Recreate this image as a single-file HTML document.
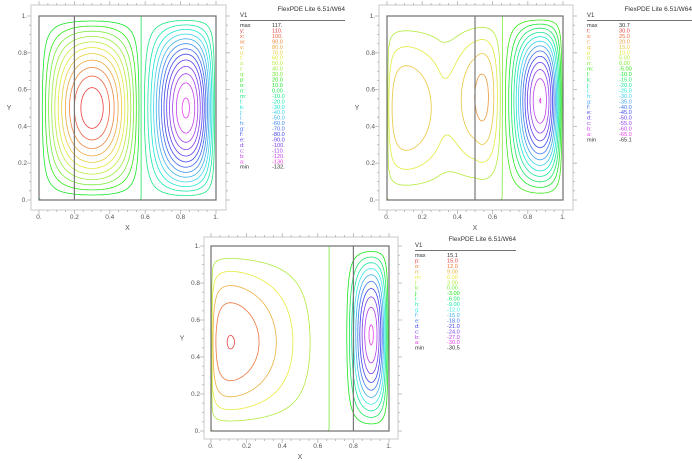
<!DOCTYPE html>
<html><head><meta charset="utf-8">
<style>
html,body{margin:0;padding:0;background:#fff;}
svg{display:block;font-family:"Liberation Sans",sans-serif;}
</style></head>
<body>
<svg id="chart" width="692" height="463" viewBox="0 0 692 463" xmlns="http://www.w3.org/2000/svg"></svg>
<script>
// ---- data ----
const levels1 = [110,100,90,80,70,60,50,40,30,20,10,0,-10,-20,-30,-40,-50,-60,-70,-80,-90,-100,-110,-120,-130];
const labels1 = ["y","x","w","v","u","t","s","r","q","p","o","n","m","l","k","j","i","h","g","f","e","d","c","b","a"];
const values1 = ["110.","100.","90.0","80.0","70.0","60.0","50.0","40.0","30.0","20.0","10.0","0.00","-10.0","-20.0","-30.0","-40.0","-50.0","-60.0","-70.0","-80.0","-90.0","-100.","-110.","-120.","-130."];
const max1 = "117.", min1 = "-132.";
const levels2 = [30,25,20,15,10,5,0,-5,-10,-15,-20,-25,-30,-35,-40,-45,-50,-55,-60,-65];
const labels2 = ["t","s","r","q","p","o","n","m","l","k","j","i","h","g","f","e","d","c","b","a"];
const values2 = ["30.0","25.0","20.0","15.0","10.0","5.00","0.00","-5.00","-10.0","-15.0","-20.0","-25.0","-30.0","-35.0","-40.0","-45.0","-50.0","-55.0","-60.0","-65.0"];
const max2 = "30.7", min2 = "-65.1";
const levels3 = [15,12,9,6,3,0,-3,-6,-9,-12,-15,-18,-21,-24,-27,-30];
const labels3 = ["p","o","n","m","l","k","j","i","h","g","f","e","d","c","b","a"];
const values3 = ["15.0","12.0","9.00","6.00","3.00","0.00","-3.00","-6.00","-9.00","-12.0","-15.0","-18.0","-21.0","-24.0","-27.0","-30.0"];
const max3 = "15.1", min3 = "-30.5";
// vortex cells: [xStart, xEnd, peakX, peakY, amplitude]
const cells1 = [[0,0.58,0.30,0.5,117],[0.565,1,0.83,0.5,-132]];
const cells2 = [[0,0.50,0.11,0.5,20],[0.30,0.66,0.54,0.56,22],[0.64,1,0.87,0.54,-65.1]];
const cells3 = [[0,0.66,0.11,0.48,15.1],[0.74,1,0.90,0.52,-30.5]];
const ticks = [0,0.2,0.4,0.6,0.8,1];
const tickText = ["0.","0.2","0.4","0.6","0.8","1."];

const NS="http://www.w3.org/2000/svg";
const svg=document.getElementById('chart');
function mk(tag,attrs,parent){const e=document.createElementNS(NS,tag);for(const k in attrs)e.setAttribute(k,attrs[k]);(parent||svg).appendChild(e);return e;}

function field(cells,x,y){
  let v=0;
  for(const c of cells){
    const [a,b,px,py,A]=c;
    if(x<=a||x>=b) continue;
    let u=(x-a)/(b-a); const m=(px-a)/(b-a);
    const g=Math.log(0.5)/Math.log(m);
    u=Math.pow(u,g);
    const gy=Math.log(0.5)/Math.log(py);
    const w=Math.pow(y,gy);
    v+=A*Math.sin(Math.PI*u)*Math.sin(Math.PI*w);
  }
  return v;
}
function colorFor(i,n){const t=n>1?i/(n-1):0;return `hsl(${t*300},80%,${t>0.35&&t<0.6?50:58}%)`;}

function drawPlot(P){
  const g=mk('g',{});
  const sx=v=>P.x0+v*(P.x1-P.x0), sy=v=>P.y0-v*(P.y0-P.y1);
  const of=mk('rect',{x:P.ox0,y:P.oy0,width:P.ox1-P.ox0,height:P.oy1-P.oy0,fill:'none',stroke:'#c8c8c8','stroke-width':1},g);
  
  let tp='';
  for(let k=0;k<=20;k++){const xx=sx(k/20);const l=k%4==0?4:2;tp+=`M${xx},${P.oy1}v${l}M${xx},${P.oy0}v${-l}`;const yy=sy(k/20);tp+=`M${P.ox0},${yy}h${-l}M${P.ox1},${yy}h${l}`;}
  const tk=mk('path',{d:tp,stroke:'#b0b0b0','stroke-width':0.8,fill:'none'},g);
  
  ticks.forEach((t,i)=>{
    const a=mk('text',{x:sx(t),y:P.oy1+9,'font-size':6.5,'text-anchor':'middle',fill:'#555'},g);a.textContent=tickText[i];
    
    const b=mk('text',{x:P.ox0-4,y:sy(t)+2,'font-size':6.5,'text-anchor':'end',fill:'#555'},g);b.textContent=tickText[i];
    
  });
  const xl=mk('text',{x:(P.x0+P.x1)/2,y:P.oy1+20,'font-size':7,'text-anchor':'middle',fill:'#555'},g);xl.textContent='X';
  
  const yl=mk('text',{x:P.ox0-22,y:(P.y0+P.y1)/2+2,'font-size':7,'text-anchor':'middle',fill:'#555'},g);yl.textContent='Y';
  
  const N=110, vals=[];
  for(let j=0;j<=N;j++){vals[j]=[];for(let i=0;i<=N;i++)vals[j][i]=field(P.cells,i/N,j/N);}
  P.levels.forEach((L,li)=>{
    let d='';
    for(let j=0;j<N;j++)for(let i=0;i<N;i++){
      const c=[vals[j][i],vals[j][i+1],vals[j+1][i+1],vals[j+1][i]];
      const pts=[[i,j],[i+1,j],[i+1,j+1],[i,j+1]];
      const cr=[];
      for(let e=0;e<4;e++){const a=c[e],b=c[(e+1)%4];if((a>L)!==(b>L)){const t=(L-a)/(b-a);const p=pts[e],q=pts[(e+1)%4];cr.push([(p[0]+t*(q[0]-p[0]))/N,(p[1]+t*(q[1]-p[1]))/N]);}}
      for(let k=0;k+1<cr.length;k+=2)d+=`M${sx(cr[k][0]).toFixed(1)},${sy(cr[k][1]).toFixed(1)}L${sx(cr[k+1][0]).toFixed(1)},${sy(cr[k+1][1]).toFixed(1)}`;
    }
    if(d){const p=mk('path',{d:d,stroke:colorFor(li,P.levels.length),'stroke-width':0.8,fill:'none'},g);
      }
  });
  const ib=mk('rect',{x:P.x0,y:P.y1,width:P.x1-P.x0,height:P.y0-P.y1,fill:'none',stroke:'#6e6e6e','stroke-width':1.2},g);
  
  const il=mk('line',{x1:sx(P.iface),x2:sx(P.iface),y1:P.y1,y2:P.y0,stroke:'#777','stroke-width':1.2},g);
  
  const lg=mk('g',{},g);
  const tt=mk('text',{x:P.lx1,y:P.ly-14,'font-size':6.5,'text-anchor':'end',fill:'#333'},lg);tt.textContent='FlexPDE Lite 6.51/W64';
  
  const v1=mk('text',{x:P.lx,y:P.ly-8,'font-size':6,fill:'#333'},lg);v1.textContent='V1';
  mk('line',{x1:P.lx,x2:P.lx1,y1:P.ly-4.5,y2:P.ly-4.5,stroke:'#444','stroke-width':0.8},lg);
  const rows=[['max',P.max,'#333']];
  P.labels.forEach((l,i)=>rows.push([l+':',P.values[i],colorFor(i,P.levels.length)]));
  rows.push(['min',P.min,'#333']);
  rows.forEach((r,i)=>{
    const y=P.ly+2+i*5.45;
    const a=mk('text',{x:P.lx,y:y,'font-size':5.6,fill:r[2]},lg);a.textContent=r[0];
    
    const b=mk('text',{x:P.lx+32,y:y,'font-size':5.6,fill:r[2]},lg);b.textContent=r[1];
    
  });
}

drawPlot({name:'plot-1',x0:39,x1:216,y0:200,y1:16,ox0:31,ox1:226,oy0:5,oy1:210,iface:0.2,cells:cells1,levels:levels1,labels:labels1,values:values1,max:max1,min:min1,lx:240,lx1:345,ly:25});
drawPlot({name:'plot-2',x0:387,x1:563,y0:200,y1:16,ox0:379,ox1:573,oy0:5,oy1:210,iface:0.5,cells:cells2,levels:levels2,labels:labels2,values:values2,max:max2,min:min2,lx:587,lx1:692,ly:25});
drawPlot({name:'plot-3',x0:211,x1:389,y0:431,y1:246,ox0:204,ox1:398,oy0:237,oy1:439,iface:0.8,cells:cells3,levels:levels3,labels:labels3,values:values3,max:max3,min:min3,lx:415,lx1:516,ly:255});
</script>
</body></html>
